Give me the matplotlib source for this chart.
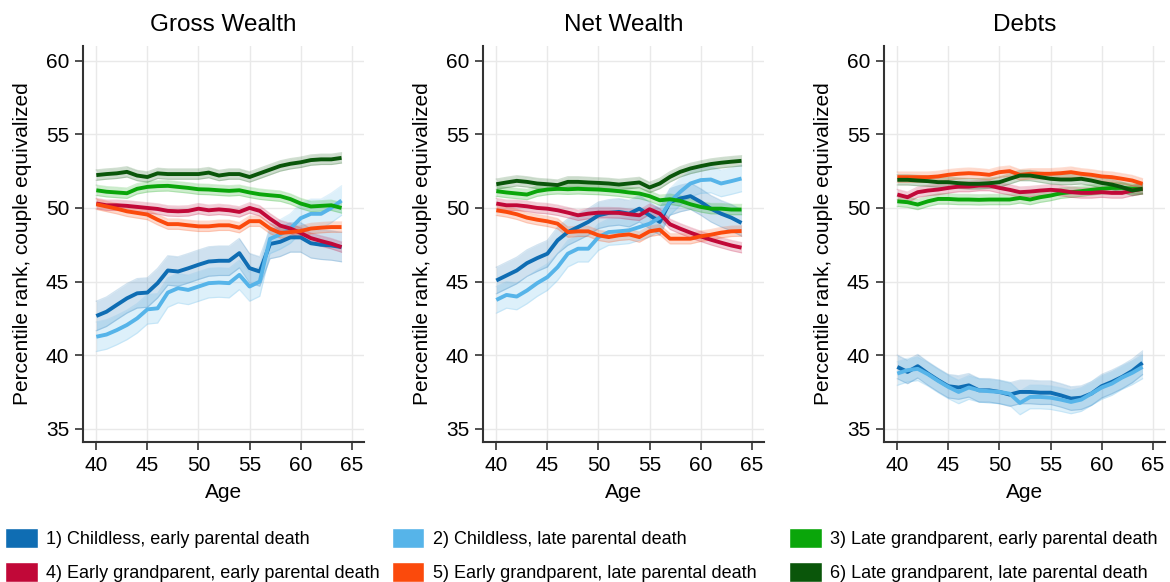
import numpy as np
import matplotlib
matplotlib.use("Agg")
import matplotlib.pyplot as plt
from matplotlib.patches import Patch
from matplotlib import font_manager

plt.rcParams['font.family'] = ['Liberation Sans', 'DejaVu Sans']

ages = list(range(40, 65))

labels = ['1) Childless, early parental death',
          '2) Childless, late parental death',
          '3) Late grandparent, early parental death',
          '4) Early grandparent, early parental death',
          '5) Early grandparent, late parental death',
          '6) Late grandparent, late parental death']
colors = ['#0f6db3', '#56b4e9', '#0aa60a', '#c10838', '#fb4a0c', '#0a560a']

titles = ['Gross Wealth', 'Net Wealth', 'Debts']

# gross wealth
g1 = [42.66, 42.95, 43.41, 43.86, 44.2, 44.25, 44.89, 45.75, 45.68, 45.9, 46.14, 46.36, 46.41,
      46.41, 46.93, 45.91, 45.68, 47.55, 47.7, 48.0, 48.0, 47.6, 47.5, 47.45, 47.34]
g2 = [41.25, 41.4, 41.7, 42.05, 42.5, 43.11, 43.18, 44.25, 44.55, 44.43, 44.66, 44.89, 44.93,
      44.89, 45.45, 44.66, 45.0, 47.9, 48.2, 48.6, 49.3, 49.6, 49.6, 50.0, 50.5]
g3 = [51.2, 51.1, 51.05, 51.0, 51.3, 51.43, 51.48, 51.5, 51.43, 51.36, 51.27, 51.25, 51.2,
      51.16, 51.2, 51.05, 50.93, 50.86, 50.8, 50.6, 50.3, 50.1, 50.14, 50.18, 50.0]
g4 = [50.3, 50.18, 50.18, 50.14, 50.07, 50.0, 49.93, 49.8, 49.77, 49.8, 49.95, 49.84, 49.9,
      49.84, 49.73, 50.0, 49.8, 49.27, 48.8, 48.6, 48.3, 47.95, 47.75, 47.57, 47.34]
g5 = [50.25, 50.1, 49.95, 49.77, 49.66, 49.55, 49.2, 48.9, 48.9, 48.82, 48.75, 48.75, 48.82,
      48.82, 48.66, 49.1, 49.1, 48.6, 48.3, 48.36, 48.43, 48.6, 48.66, 48.7, 48.7]
g6 = [52.23, 52.3, 52.35, 52.45, 52.2, 52.1, 52.35, 52.3, 52.3, 52.3, 52.3, 52.4, 52.2,
      52.3, 52.3, 52.1, 52.35, 52.6, 52.85, 53.0, 53.1, 53.25, 53.3, 53.3, 53.4]

# net wealth
n1 = [45.07, 45.41, 45.75, 46.25, 46.59, 46.89, 47.8, 48.36, 48.7, 49.05, 49.5, 49.66, 49.73,
      49.61, 49.95, 49.5, 49.05, 50.41, 50.64, 50.8, 50.41, 49.95, 49.61, 49.34, 48.98]
n2 = [43.75, 44.09, 43.98, 44.39, 44.89, 45.3, 45.98, 46.89, 47.23, 47.23, 48.02, 48.36, 48.41,
      48.48, 48.7, 48.93, 49.34, 50.41, 51.09, 51.66, 51.89, 51.93, 51.66, 51.82, 52.0]
n3 = [51.14, 51.05, 50.98, 50.91, 51.14, 51.25, 51.3, 51.27, 51.3, 51.27, 51.25, 51.2, 51.14,
      51.05, 50.98, 50.8, 50.52, 50.59, 50.48, 50.25, 50.07, 49.95, 49.95, 49.89, 49.89]
n4 = [50.3, 50.18, 50.18, 50.11, 50.0, 49.95, 49.84, 49.68, 49.5, 49.61, 49.68, 49.68, 49.66,
      49.57, 49.5, 49.91, 49.61, 48.89, 48.59, 48.32, 48.07, 47.84, 47.64, 47.45, 47.3]
n5 = [49.84, 49.73, 49.57, 49.34, 49.2, 49.09, 48.93, 48.36, 48.41, 48.41, 48.14, 48.02, 48.14,
      48.2, 48.02, 48.41, 48.52, 47.91, 47.91, 47.91, 48.07, 48.18, 48.32, 48.41, 48.43]
n6 = [51.61, 51.73, 51.84, 51.77, 51.66, 51.61, 51.55, 51.77, 51.77, 51.73, 51.7, 51.66, 51.59,
      51.66, 51.73, 51.39, 51.66, 52.11, 52.45, 52.68, 52.84, 52.98, 53.07, 53.14, 53.2]

# debts
d1 = [39.2, 38.86, 39.25, 38.75, 38.3, 37.89, 37.8, 37.95, 37.61, 37.61, 37.5, 37.32, 37.5,
      37.5, 37.45, 37.45, 37.27, 37.05, 37.11, 37.39, 37.89, 38.18, 38.52, 38.93, 39.48]
d2 = [38.75, 38.98, 39.07, 38.7, 38.25, 37.84, 37.5, 37.8, 37.61, 37.55, 37.5, 37.38, 36.75,
      37.16, 37.16, 37.11, 36.98, 36.82, 36.98, 37.39, 37.8, 38.07, 38.48, 38.8, 39.2]
d3 = [50.45, 50.39, 50.23, 50.45, 50.61, 50.61, 50.57, 50.57, 50.55, 50.57, 50.57, 50.57, 50.68,
      50.57, 50.73, 50.84, 51.0, 51.07, 51.14, 51.23, 51.3, 51.36, 51.36, 51.3, 51.3]
d4 = [50.91, 50.73, 51.07, 51.18, 51.25, 51.36, 51.45, 51.45, 51.52, 51.52, 51.36, 51.23, 51.07,
      51.11, 51.18, 51.23, 51.18, 51.07, 51.02, 51.02, 51.07, 51.02, 51.02, 51.18, 51.3]
d5 = [52.09, 52.09, 52.09, 52.09, 52.14, 52.25, 52.32, 52.36, 52.32, 52.25, 52.43, 52.5, 52.25,
      52.32, 52.32, 52.32, 52.36, 52.43, 52.32, 52.25, 52.14, 52.09, 51.98, 51.86, 51.64]
d6 = [51.91, 51.91, 51.86, 51.82, 51.75, 51.75, 51.68, 51.64, 51.64, 51.68, 51.75, 51.98, 52.2,
      52.2, 52.09, 51.98, 51.93, 51.93, 51.98, 51.86, 51.7, 51.59, 51.41, 51.18, 51.3]

# half width of the confidence bands, per group
ci_gross = [1.0, 1.0, 0.35, 0.35, 0.35, 0.35]
ci_net = [0.9, 0.9, 0.35, 0.35, 0.35, 0.35]
ci_debts = [0.8, 0.8, 0.35, 0.35, 0.35, 0.35]

panels = [([g1, g2, g3, g4, g5, g6], ci_gross),
          ([n1, n2, n3, n4, n5, n6], ci_net),
          ([d1, d2, d3, d4, d5, d6], ci_debts)]

fig = plt.figure(figsize=(11.7, 5.82), dpi=100)
lefts = [83 / 1170, 483 / 1170, 884 / 1170]
x = np.array(ages)

for k, (series, ci) in enumerate(panels):
    ax = fig.add_axes([lefts[k], 1 - 442 / 582, 281 / 1170, 396 / 582])
    for s, c, w in zip(series, colors, ci):
        y = np.array(s)
        ax.fill_between(x, y - w, y + w, color=c, alpha=0.2, lw=0)
        ax.plot(x, y - w, color=c, alpha=0.18, lw=0.9)
        ax.plot(x, y + w, color=c, alpha=0.18, lw=0.9)
    for s, c in zip(series, colors):
        ax.plot(x, s, color=c, lw=2.8, solid_capstyle='butt')

    ax.set_xlim(38.7, 66.2)
    ax.set_ylim(34.1, 61.0)
    ax.set_xticks(range(40, 66, 5))
    ax.set_yticks(range(35, 61, 5))
    ax.grid(True, color='#e9e9e9', lw=1)
    ax.set_axisbelow(True)
    for side in ['top', 'right']:
        ax.spines[side].set_visible(False)
    for side in ['left', 'bottom']:
        ax.spines[side].set_color('#333333')
        ax.spines[side].set_linewidth(1.5)
    ax.tick_params(length=6, width=1.2, color='#333333', labelsize=15, pad=4)
    ax.set_xlabel('Age', fontsize=15, labelpad=6)
    ax.set_ylabel('Percentile rank, couple equivalized', fontsize=15, labelpad=10)
    ax.set_title(titles[k], fontsize=17.5, pad=11)

# legend below the panels, one block per column
names = {f.name for f in font_manager.fontManager.ttflist}
if 'Liberation Sans Narrow' in names:
    leg_font = {'family': 'Liberation Sans Narrow', 'size': 16}
else:
    leg_font = {'family': 'Liberation Sans', 'size': 13}

col_x = [5 / 1170, 392 / 1170, 789 / 1170]
for j in range(3):
    handles = [Patch(facecolor=colors[j], edgecolor='white'),
               Patch(facecolor=colors[j + 3], edgecolor='white')]
    fig.legend(handles, [labels[j], labels[j + 3]], loc='upper left',
               bbox_to_anchor=(col_x[j], 1 - 528 / 582), frameon=False, prop=leg_font,
               handlelength=1.8, handleheight=1.35, handletextpad=0.45,
               labelspacing=0.75, borderpad=0, borderaxespad=0)

fig.savefig('out.png', dpi=100)
